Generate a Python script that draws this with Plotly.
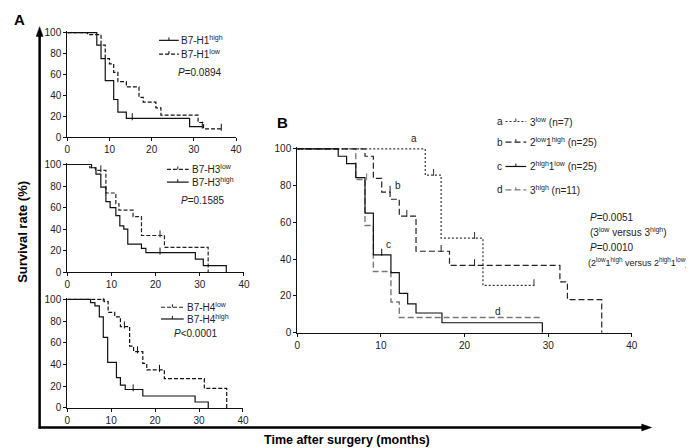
import plotly.graph_objects as go

W, H = 694, 448

# ---------------- data ----------------
# Panel A1: B7-H1
h1_high_t = [0, 7, 8, 9, 11, 12, 14, 29, 32]
h1_high_s = [100, 88, 75, 54, 36, 24, 18, 10, 10]
h1_high_cens_t = [15.4, 32]
h1_high_cens_s = [18, 10]
h1_low_t = [0, 4.8, 8, 9, 10, 11, 12, 14, 17, 18, 21, 22.2, 31, 32.3, 36.5]
h1_low_s = [100, 98, 88, 75, 70, 62, 53, 48, 38, 33.5, 28, 21, 14, 8, 8]
h1_low_cens_t = [36.5]
h1_low_cens_s = [8]

# Panel A2: B7-H3
h3_low_t = [0, 5.1, 6.4, 8.75, 11, 11.7, 14.9, 16.8, 22, 31.9]
h3_low_s = [100, 97, 94.5, 73.5, 63.5, 57.5, 51.5, 34, 23, 0]
h3_low_cens_t = [7.6, 21]
h3_low_cens_s = [94.5, 34]
h3_high_t = [0, 5.5, 6.5, 7.6, 8.75, 9.7, 11, 11.9, 12.8, 13.7, 16.8, 17.8, 29, 30.8, 36]
h3_high_s = [100, 97, 91, 79, 65.5, 60, 52.5, 43, 40, 26, 22, 18, 12, 6, 0]
h3_high_cens_t = [21]
h3_high_cens_s = [18]

# Panel A3: B7-H4
h4_low_t = [0, 8.4, 9.3, 10.8, 12.1, 14.2, 15.1, 17.2, 18.1, 22.1, 31.2, 36.3]
h4_low_s = [100, 98, 88, 84, 75, 57, 52, 41, 35, 27, 18, 0]
h4_low_cens_t = [8.2, 13, 16, 21]
h4_low_cens_s = [100, 75, 52, 35]
h4_high_t = [0, 5.3, 6.3, 7.3, 8.2, 9.2, 11.2, 12.1, 13.2, 17.2, 29.1, 32.1]
h4_high_s = [100, 97, 94, 84, 65, 42, 28, 21, 17, 11, 5.5, 0]
h4_high_cens_t = [15]
h4_high_cens_s = [17]

# Panel B
a_t = [0, 15.3, 17.2, 22.2, 28.3]
a_s = [100, 85.7, 51.4, 25.7, 25.7]
a_cens_t = [16.3, 21.2, 28.3]
a_cens_s = [85.7, 51.4, 25.7]
b_t = [0, 8.1, 9.1, 10.1, 11.1, 12.2, 14.2, 18.2, 31.4, 32.3, 36.4]
b_s = [100, 96, 84, 76.5, 72.6, 63.4, 44.3, 36.6, 27.6, 18, 0]
b_cens_t = [11.1, 13.1, 17.2, 21.2]
b_cens_s = [76.5, 63.4, 44.3, 36.6]
c_t = [0, 4.9, 5.9, 7.0, 8.1, 9.1, 11.2, 12.2, 13.2, 14.2, 17.3, 29.3]
c_s = [100, 96, 92, 84.4, 65, 42.3, 32.7, 21.4, 15.7, 10.7, 5.4, 0]
c_cens_t = [10.1]
c_cens_s = [42.3]
d_t = [0, 7.0, 8.1, 9.1, 11.2, 12.2, 29.2]
d_s = [100, 83.3, 58.3, 33.3, 16.7, 8.3, 8.3]
d_cens_t = [8.3]
d_cens_s = [83.3]

x_ticks = [0, 10, 20, 30, 40]
y_ticks = [0, 20, 40, 60, 80, 100]

# ---------------- layout helpers ----------------
def px(x):
    return x / W

def py(y):
    return 1 - y / H

FONT = "Arial, Liberation Sans, sans-serif"

fig = go.Figure()

# panel geometry: (x at 0, x at 40, y at 0, y at 100) in pixels
panels = {
    "1": (57, 228, 128, 21),
    "2": (57, 236, 266, 156),
    "3": (57, 235, 405, 294),
    "4": (290, 629, 328, 140),
}

layout = dict(
    width=W, height=H, margin=dict(l=0, r=0, t=0, b=0),
    paper_bgcolor="white", plot_bgcolor="white", showlegend=False,
    font=dict(family=FONT, size=10, color="#111"),
)
for k, (x0, x40, y0, y100) in panels.items():
    ytop = y100 - (y0 - y100) / 100.0
    xs = "xaxis" if k == "1" else f"xaxis{k}"
    ys = "yaxis" if k == "1" else f"yaxis{k}"
    layout[xs] = dict(domain=[px(x0), px(x40)], range=[0, 40], tickvals=x_ticks,
                      showline=True, linecolor="#111", linewidth=1, ticks="outside",
                      ticklen=3, tickwidth=1, tickcolor="#111", showgrid=False,
                      zeroline=False, anchor=f"y{'' if k == '1' else k}",
                      tickfont=dict(size=10, family=FONT, color="#222"))
    layout[ys] = dict(domain=[py(y0), py(ytop)], range=[0, 101], tickvals=y_ticks,
                      showline=True, linecolor="#111", linewidth=1, ticks="outside",
                      ticklen=3, tickwidth=1, tickcolor="#111", showgrid=False,
                      zeroline=False, anchor=f"x{'' if k == '1' else k}",
                      tickfont=dict(size=10, family=FONT, color="#222"))
fig.update_layout(**layout)


def km(t, s, ct, cs, panel, color, dash, width=1.2):
    xa = "x" if panel == "1" else f"x{panel}"
    ya = "y" if panel == "1" else f"y{panel}"
    fig.add_trace(go.Scatter(x=t, y=s, mode="lines", line=dict(shape="hv", color=color,
                             dash=dash, width=width), xaxis=xa, yaxis=ya,
                             hoverinfo="skip"))
    fig.add_trace(go.Scatter(x=ct, y=[v + 1.5 for v in cs], mode="markers",
                             marker=dict(symbol="line-ns", size=5,
                                         line=dict(color=color, width=1)),
                             xaxis=xa, yaxis=ya, hoverinfo="skip"))


km(h1_high_t, h1_high_s, h1_high_cens_t, h1_high_cens_s, "1", "#111", "solid")
km(h1_low_t, h1_low_s, h1_low_cens_t, h1_low_cens_s, "1", "#111", "4px,2px")
km(h3_low_t, h3_low_s, h3_low_cens_t, h3_low_cens_s, "2", "#222", "4px,2px")
km(h3_high_t, h3_high_s, h3_high_cens_t, h3_high_cens_s, "2", "#111", "solid")
km(h4_low_t, h4_low_s, h4_low_cens_t, h4_low_cens_s, "3", "#111", "4px,2px")
km(h4_high_t, h4_high_s, h4_high_cens_t, h4_high_cens_s, "3", "#111", "solid")

km(d_t, d_s, d_cens_t, d_cens_s, "4", "#777", "6px,3px", 1.4)
km(a_t, a_s, a_cens_t, a_cens_s, "4", "#333", "2px,2px")
km(b_t, b_s, b_cens_t, b_cens_s, "4", "#222", "6px,3px")
km(c_t, c_s, c_cens_t, c_cens_s, "4", "#111", "solid")

shapes = []
annots = []


def text(x, y, s, size=10, bold=False, xanchor="left", color="#222", angle=0):
    if bold:
        s = f"<b>{s}</b>"
    annots.append(dict(x=px(x), y=py(y), xref="paper", yref="paper", text=s,
                       showarrow=False, xanchor=xanchor, yanchor="middle",
                       borderpad=0, borderwidth=0,
                       font=dict(size=size, family=FONT, color=color), textangle=angle))


def sample(x0, x1, y, color, dash, tick=True):
    shapes.append(dict(type="line", xref="paper", yref="paper", x0=px(x0), x1=px(x1),
                       y0=py(y), y1=py(y), line=dict(color=color, dash=dash, width=1.2)))
    if tick:
        xm = (x0 + x1) / 2
        shapes.append(dict(type="line", xref="paper", yref="paper", x0=px(xm), x1=px(xm),
                           y0=py(y), y1=py(y - 3), line=dict(color=color, width=1)))


# Panel A legends
sample(150, 170, 29, "#111", "solid")
text(172, 29, "B7-H1<sup>high</sup>")
sample(150, 170, 43, "#111", "4px,2px")
text(172, 43, "B7-H1<sup>low</sup>")
text(169, 62, "<i>P</i>=0.0894")

sample(158, 180, 161, "#222", "4px,2px")
text(183, 161, "B7-H3<sup>low</sup>")
sample(158, 180, 174, "#111", "solid")
text(183, 174, "B7-H3<sup>high</sup>")
text(172, 193, "<i>P</i>=0.1585")

sample(152, 175, 302, "#222", "4px,2px")
text(178, 302, "B7-H4<sup>low</sup>")
sample(152, 175, 314, "#111", "solid")
text(178, 314, "B7-H4<sup>high</sup>")
text(165, 329, "<i>P</i>&lt;0.0001")

# Panel B legend
text(492, 112, "a")
sample(501, 522, 112, "#333", "2px,2px")
text(526, 112, "3<sup>low</sup> (n=7)")
text(492, 133, "b")
sample(501, 522, 133, "#222", "6px,3px")
text(526, 133, "2<sup>low</sup>1<sup>high</sup> (n=25)")
text(492, 158, "c")
sample(501, 522, 158, "#111", "solid")
text(526, 158, "2<sup>high</sup>1<sup>low</sup> (n=25)")
text(492, 182, "d")
sample(501, 522, 182, "#777", "6px,3px")
text(526, 182, "3<sup>high</sup> (n=11)")

text(587, 210, "<i>P</i>=0.0051")
text(587, 225, "(3<sup>low</sup> versus 3<sup>high</sup>)")
text(587, 241, "<i>P</i>=0.0010")
text(585, 256, "(2<sup>low</sup>1<sup>high</sup> versus 2<sup>high</sup>1<sup>low</sup>)", size=9)

# curve labels in B
text(408, 129, "a", xanchor="center")
text(392, 177, "b", xanchor="center")
text(382, 238, "c", xanchor="center")
text(493, 306, "d", xanchor="center")

# panel letters and axis titles
text(3, 8, "A", size=15, bold=True, color="#000")
text(270, 113, "B", size=15, bold=True, color="#000")
text(12, 225, "Survival rate (%)", size=13, bold=True, xanchor="center", color="#000", angle=-90)
text(340, 438, "Time after surgery (months)", size=12.5, bold=True, xanchor="center", color="#000")

# big arrowed axes
shapes.append(dict(type="line", xref="paper", yref="paper", x0=px(29), x1=px(29),
                   y0=py(426), y1=py(22), line=dict(color="#000", width=2.5)))
shapes.append(dict(type="line", xref="paper", yref="paper", x0=px(28), x1=px(642),
                   y0=py(425), y1=py(425), line=dict(color="#000", width=2.5)))
shapes.append(dict(type="path", xref="paper", yref="paper",
                   path=f"M {px(29)} {py(15)} L {px(25.5)} {py(25)} L {px(32.5)} {py(25)} Z",
                   fillcolor="#000", line=dict(color="#000", width=0.5)))
shapes.append(dict(type="path", xref="paper", yref="paper",
                   path=f"M {px(649)} {py(425)} L {px(639)} {py(421.5)} L {px(639)} {py(428.5)} Z",
                   fillcolor="#000", line=dict(color="#000", width=0.5)))

fig.update_layout(shapes=shapes, annotations=annots)
fig.write_html("out.html")
